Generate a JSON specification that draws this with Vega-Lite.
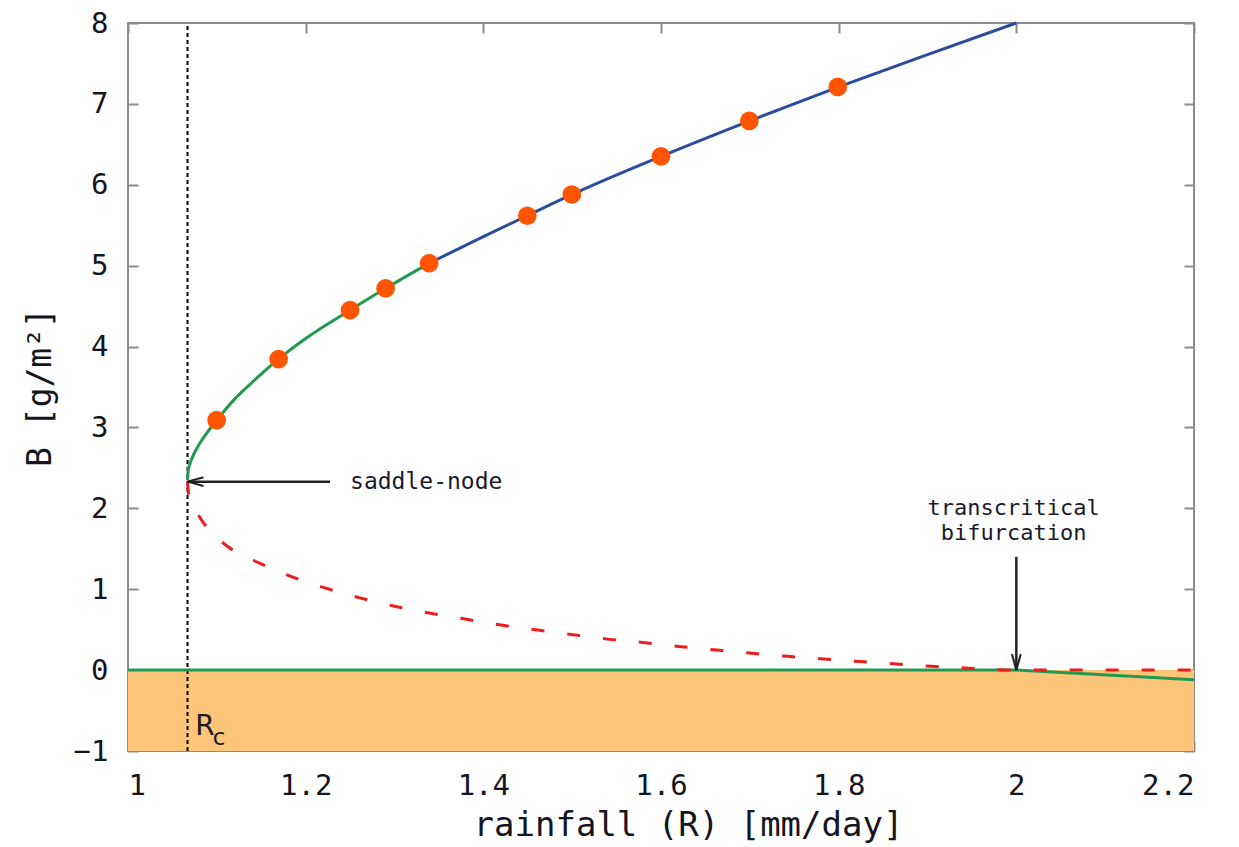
{
  "$schema": "https://vega.github.io/schema/vega-lite/v6.json",
  "width": 1066,
  "height": 728,
  "autosize": {"type": "none"},
  "padding": {"left": 128, "top": 23, "right": 45, "bottom": 96},
  "background": "white",
  "config": {
    "view": {"stroke": "#8c8c8c", "strokeWidth": 2},
    "font": "DejaVu Sans Mono",
    "axis": {
      "grid": false,
      "domain": false,
      "tickColor": "#8c8c8c",
      "tickWidth": 2,
      "tickSize": -10,
      "labelFont": "DejaVu Sans Mono",
      "labelFontSize": 29,
      "labelColor": "#151520",
      "labelPadding": 30,
      "titleFont": "DejaVu Sans Mono",
      "titleFontSize": 33,
      "titleFontWeight": "normal",
      "titleColor": "#151520"
    }
  },
  "datasets": {
    "fill": [
      {"R": 1.0, "B": -1, "B2": 0},
      {"R": 2.2, "B": -1, "B2": 0}
    ],
    "rc": [{"R": 1.067, "B": -1, "B2": 8}],
    "upper": [
      {"R": 1.067, "B": 2.35, "seg": "green"},
      {"R": 1.068, "B": 2.48, "seg": "green"},
      {"R": 1.07, "B": 2.56, "seg": "green"},
      {"R": 1.075, "B": 2.69, "seg": "green"},
      {"R": 1.08, "B": 2.79, "seg": "green"},
      {"R": 1.09, "B": 2.95, "seg": "green"},
      {"R": 1.1, "B": 3.09, "seg": "green"},
      {"R": 1.12, "B": 3.35, "seg": "green"},
      {"R": 1.14, "B": 3.56, "seg": "green"},
      {"R": 1.17, "B": 3.85, "seg": "green"},
      {"R": 1.2, "B": 4.1, "seg": "green"},
      {"R": 1.25, "B": 4.45, "seg": "green"},
      {"R": 1.29, "B": 4.72, "seg": "green"},
      {"R": 1.339, "B": 5.03, "seg": "green"},
      {"R": 1.339, "B": 5.03, "seg": "blue"},
      {"R": 1.4, "B": 5.36, "seg": "blue"},
      {"R": 1.45, "B": 5.62, "seg": "blue"},
      {"R": 1.5, "B": 5.88, "seg": "blue"},
      {"R": 1.6, "B": 6.35, "seg": "blue"},
      {"R": 1.7, "B": 6.79, "seg": "blue"},
      {"R": 1.8, "B": 7.21, "seg": "blue"},
      {"R": 1.9, "B": 7.61, "seg": "blue"},
      {"R": 2.0, "B": 8.0, "seg": "blue"}
    ],
    "zero": [
      {"R": 1.0, "B": 0},
      {"R": 2.0, "B": 0},
      {"R": 2.2, "B": -0.12}
    ],
    "unstable": [
      {"R": 1.067, "B": 2.33},
      {"R": 1.068, "B": 2.2},
      {"R": 1.07, "B": 2.12},
      {"R": 1.079, "B": 1.92},
      {"R": 1.09, "B": 1.75},
      {"R": 1.1126, "B": 1.525},
      {"R": 1.1486, "B": 1.32},
      {"R": 1.184, "B": 1.155},
      {"R": 1.2237, "B": 1.01},
      {"R": 1.263, "B": 0.887},
      {"R": 1.3025, "B": 0.784},
      {"R": 1.342, "B": 0.7},
      {"R": 1.381, "B": 0.628},
      {"R": 1.42, "B": 0.557},
      {"R": 1.4616, "B": 0.495},
      {"R": 1.501, "B": 0.438},
      {"R": 1.542, "B": 0.38},
      {"R": 1.582, "B": 0.339},
      {"R": 1.6225, "B": 0.29},
      {"R": 1.663, "B": 0.248},
      {"R": 1.703, "B": 0.207},
      {"R": 1.743, "B": 0.17},
      {"R": 1.7835, "B": 0.137},
      {"R": 1.824, "B": 0.105},
      {"R": 1.865, "B": 0.075},
      {"R": 1.905, "B": 0.047},
      {"R": 1.946, "B": 0.024},
      {"R": 2.0, "B": 0},
      {"R": 2.2, "B": 0}
    ],
    "dots": [
      {"R": 1.0998, "B": 3.09},
      {"R": 1.1696, "B": 3.845},
      {"R": 1.25, "B": 4.45},
      {"R": 1.29, "B": 4.72},
      {"R": 1.339, "B": 5.03},
      {"R": 1.4495, "B": 5.617},
      {"R": 1.4996, "B": 5.88},
      {"R": 1.6, "B": 6.35},
      {"R": 1.6994, "B": 6.79},
      {"R": 1.799, "B": 7.21}
    ],
    "arrowSaddle": [{"R": 1.2274, "B": 2.33, "R2": 1.067, "B2": 2.33}],
    "arrowTrans": [{"R": 2.0, "B": 1.4, "R2": 2.0, "B2": 0}],
    "labels": [
      {"R": 1.25, "B": 2.33, "text": "saddle-node", "kind": "left"},
      {"R": 1.997, "B": 2.0, "text": "transcritical", "kind": "center"},
      {"R": 1.997, "B": 1.69, "text": "bifurcation", "kind": "center"}
    ],
    "rcR": [{"R": 1.0867, "B": -0.8, "text": "R"}],
    "rcC": [{"R": 1.1024, "B": -0.93, "text": "c"}]
  },
  "layer": [
    {
      "data": {"name": "fill"},
      "mark": {"type": "area", "color": "#fdc57a", "opacity": 1},
      "encoding": {
        "x": {"field": "R", "type": "quantitative", "scale": {"domain": [1, 2.2], "nice": false, "zero": false},
              "axis": {"orient": "top", "values": [1, 1.2, 1.4, 1.6, 1.8, 2, 2.2], "labels": false, "title": null}},
        "y": {"field": "B", "type": "quantitative", "scale": {"domain": [-1, 8], "nice": false, "zero": false},
              "axis": {"orient": "right", "values": [-1, 0, 1, 2, 3, 4, 5, 6, 7, 8], "labels": false, "title": null}},
        "y2": {"field": "B2"}
      }
    },
    {
      "data": {"name": "rc"},
      "mark": {"type": "rule", "color": "#000000", "strokeWidth": 2, "strokeDash": [4, 3]},
      "encoding": {
        "x": {"field": "R", "type": "quantitative", "scale": {"domain": [1, 2.2], "nice": false, "zero": false},
              "axis": {"orient": "bottom", "values": [1, 1.2, 1.4, 1.6, 1.8, 2, 2.2], "format": "~g", "title": "rainfall (R) [mm/day]", "titleFontSize": 34, "titlePadding": 8, "titleX": 560}},
        "y": {"field": "B", "type": "quantitative", "scale": {"domain": [-1, 8], "nice": false, "zero": false},
              "axis": {"orient": "left", "values": [-1, 0, 1, 2, 3, 4, 5, 6, 7, 8], "format": "d", "title": "B [g/m²]", "titlePadding": 16}},
        "y2": {"field": "B2"}
      }
    },
    {
      "data": {"name": "upper"},
      "mark": {"type": "line", "strokeWidth": 3, "interpolate": "monotone"},
      "encoding": {
        "x": {"field": "R", "type": "quantitative", "scale": {"domain": [1, 2.2], "nice": false, "zero": false}, "axis": null},
        "y": {"field": "B", "type": "quantitative", "scale": {"domain": [-1, 8], "nice": false, "zero": false}, "axis": null},
        "color": {"field": "seg", "type": "nominal", "scale": {"domain": ["green", "blue"], "range": ["#22994f", "#2b4c9b"]}, "legend": null}
      }
    },
    {
      "data": {"name": "zero"},
      "mark": {"type": "line", "strokeWidth": 3, "color": "#22994f"},
      "encoding": {
        "x": {"field": "R", "type": "quantitative", "scale": {"domain": [1, 2.2], "nice": false, "zero": false}, "axis": null},
        "y": {"field": "B", "type": "quantitative", "scale": {"domain": [-1, 8], "nice": false, "zero": false}, "axis": null}
      }
    },
    {
      "data": {"name": "unstable"},
      "mark": {"type": "line", "strokeWidth": 3, "color": "#ee1c1c", "strokeDash": [13, 23], "interpolate": "monotone"},
      "encoding": {
        "x": {"field": "R", "type": "quantitative", "scale": {"domain": [1, 2.2], "nice": false, "zero": false}, "axis": null},
        "y": {"field": "B", "type": "quantitative", "scale": {"domain": [-1, 8], "nice": false, "zero": false}, "axis": null}
      }
    },
    {
      "data": {"name": "dots"},
      "mark": {"type": "point", "filled": true, "color": "#ff5500", "size": 350, "opacity": 1},
      "encoding": {
        "x": {"field": "R", "type": "quantitative", "scale": {"domain": [1, 2.2], "nice": false, "zero": false}, "axis": null},
        "y": {"field": "B", "type": "quantitative", "scale": {"domain": [-1, 8], "nice": false, "zero": false}, "axis": null}
      }
    },
    {
      "data": {"name": "arrowSaddle"},
      "mark": {"type": "rule", "color": "#222222", "strokeWidth": 2.5},
      "encoding": {
        "x": {"field": "R", "type": "quantitative", "scale": {"domain": [1, 2.2], "nice": false, "zero": false}, "axis": null},
        "y": {"field": "B", "type": "quantitative", "scale": {"domain": [-1, 8], "nice": false, "zero": false}, "axis": null},
        "x2": {"field": "R2"},
        "y2": {"field": "B2"}
      }
    },
    {
      "data": {"name": "arrowSaddle"},
      "mark": {"type": "point", "shape": "M0,0L2,-0.55M0,0L2,0.55", "filled": false, "color": "#222222", "strokeWidth": 2, "size": 256, "opacity": 1},
      "encoding": {
        "x": {"field": "R2", "type": "quantitative", "scale": {"domain": [1, 2.2], "nice": false, "zero": false}, "axis": null},
        "y": {"field": "B2", "type": "quantitative", "scale": {"domain": [-1, 8], "nice": false, "zero": false}, "axis": null}
      }
    },
    {
      "data": {"name": "arrowTrans"},
      "mark": {"type": "rule", "color": "#222222", "strokeWidth": 2.5},
      "encoding": {
        "x": {"field": "R", "type": "quantitative", "scale": {"domain": [1, 2.2], "nice": false, "zero": false}, "axis": null},
        "y": {"field": "B", "type": "quantitative", "scale": {"domain": [-1, 8], "nice": false, "zero": false}, "axis": null},
        "x2": {"field": "R2"},
        "y2": {"field": "B2"}
      }
    },
    {
      "data": {"name": "arrowTrans"},
      "mark": {"type": "point", "shape": "M0,0L-0.55,-2M0,0L0.55,-2", "filled": false, "color": "#222222", "strokeWidth": 2, "size": 256, "opacity": 1},
      "encoding": {
        "x": {"field": "R2", "type": "quantitative", "scale": {"domain": [1, 2.2], "nice": false, "zero": false}, "axis": null},
        "y": {"field": "B2", "type": "quantitative", "scale": {"domain": [-1, 8], "nice": false, "zero": false}, "axis": null}
      }
    },
    {
      "data": {"name": "labels"},
      "transform": [{"filter": "datum.kind === 'left'"}],
      "mark": {"type": "text", "align": "left", "baseline": "middle", "font": "DejaVu Sans Mono", "fontSize": 23, "color": "#1a1a2a"},
      "encoding": {
        "x": {"field": "R", "type": "quantitative", "scale": {"domain": [1, 2.2], "nice": false, "zero": false}, "axis": null},
        "y": {"field": "B", "type": "quantitative", "scale": {"domain": [-1, 8], "nice": false, "zero": false}, "axis": null},
        "text": {"field": "text"}
      }
    },
    {
      "data": {"name": "labels"},
      "transform": [{"filter": "datum.kind === 'center'"}],
      "mark": {"type": "text", "align": "center", "baseline": "middle", "font": "DejaVu Sans Mono", "fontSize": 22, "color": "#1a1a2a"},
      "encoding": {
        "x": {"field": "R", "type": "quantitative", "scale": {"domain": [1, 2.2], "nice": false, "zero": false}, "axis": null},
        "y": {"field": "B", "type": "quantitative", "scale": {"domain": [-1, 8], "nice": false, "zero": false}, "axis": null},
        "text": {"field": "text"}
      }
    },
    {
      "data": {"name": "rcR"},
      "mark": {"type": "text", "align": "center", "baseline": "alphabetic", "font": "DejaVu Sans", "fontSize": 28, "color": "#1a1a1a"},
      "encoding": {
        "x": {"field": "R", "type": "quantitative", "scale": {"domain": [1, 2.2], "nice": false, "zero": false}, "axis": null},
        "y": {"field": "B", "type": "quantitative", "scale": {"domain": [-1, 8], "nice": false, "zero": false}, "axis": null},
        "text": {"field": "text"}
      }
    },
    {
      "data": {"name": "rcC"},
      "mark": {"type": "text", "align": "center", "baseline": "alphabetic", "font": "DejaVu Sans", "fontSize": 23, "color": "#1a1a1a"},
      "encoding": {
        "x": {"field": "R", "type": "quantitative", "scale": {"domain": [1, 2.2], "nice": false, "zero": false}, "axis": null},
        "y": {"field": "B", "type": "quantitative", "scale": {"domain": [-1, 8], "nice": false, "zero": false}, "axis": null},
        "text": {"field": "text"}
      }
    }
  ],
  "resolve": {"axis": {"x": "independent", "y": "independent"}}
}
